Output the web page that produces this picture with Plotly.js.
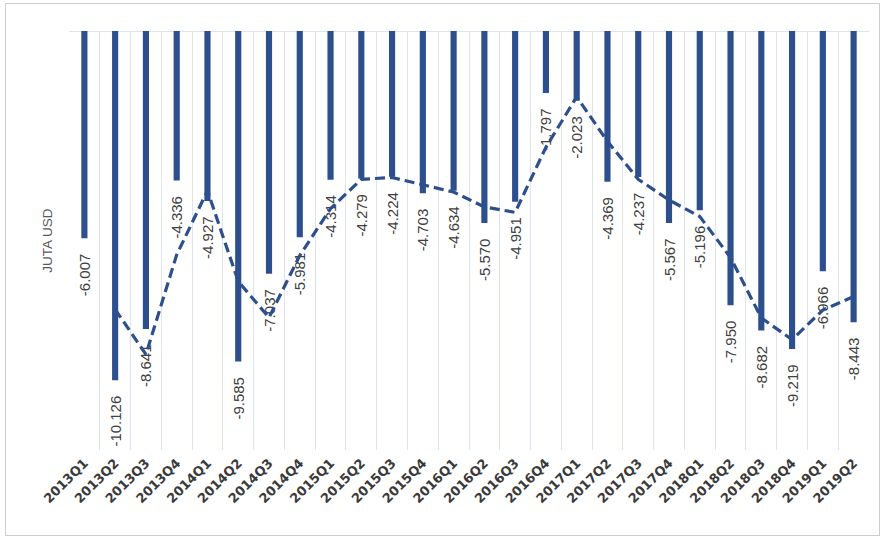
<!DOCTYPE html>
<html>
<head>
<meta charset="utf-8">
<script src="https://cdn.plot.ly/plotly-3.0.1.min.js"></script>
<style>
  html, body { margin: 0; padding: 0; background: #ffffff; }
  #wrap { position: relative; width: 883px; height: 541px; }
  #chart { width: 883px; height: 541px; }
  #frame { position: absolute; left: 5px; top: 3px; width: 873px; height: 531px;
           border: 1px solid #c9ccd2; pointer-events: none; }
</style>
</head>
<body>
<div id="wrap">
  <div id="chart"></div>
  <div id="frame"></div>
</div>
<script>
const categories = ["2013Q1","2013Q2","2013Q3","2013Q4","2014Q1","2014Q2","2014Q3","2014Q4",
  "2015Q1","2015Q2","2015Q3","2015Q4","2016Q1","2016Q2","2016Q3","2016Q4",
  "2017Q1","2017Q2","2017Q3","2017Q4","2018Q1","2018Q2","2018Q3","2018Q4",
  "2019Q1","2019Q2"];
const balanceValues = [-6.007,-10.126,-8.641,-4.336,-4.927,-9.585,-7.037,-5.981,
  -4.314,-4.279,-4.224,-4.703,-4.634,-5.570,-4.951,-1.797,
  -2.023,-4.369,-4.237,-5.567,-5.196,-7.950,-8.682,-9.219,
  -6.966,-8.443];
// dashed trend line (starts at 2013Q2)
const trendCategories = categories.slice(1);
const trendValues = [-8.07,-9.38,-6.49,-4.63,-7.26,-8.31,-6.51,
  -5.15,-4.30,-4.25,-4.46,-4.67,-5.10,-5.26,-3.37,
  -1.91,-3.20,-4.30,-4.90,-5.38,-6.57,-8.32,-8.95,
  -8.09,-7.70];
// labels carry a little trailing padding so they sit clear of the bar ends
const valueLabels = balanceValues.map(v => v.toFixed(3) + "\u00a0\u00a0\u00a0");

const barColor = "#2d4f8e";

const traces = [
  {
    type: "scatter", mode: "none", x: [], y: [], xaxis: "x2", yaxis: "y", hoverinfo: "skip"
  },
  {
    type: "bar",
    x: categories,
    y: balanceValues,
    width: 0.2,
    marker: { color: barColor },
    text: valueLabels,
    textposition: "outside",
    textangle: -90,
    constraintext: "none",
    cliponaxis: false,
    textfont: { family: "Liberation Sans, Arial, sans-serif", size: 15, color: "#404040" },
    hoverinfo: "x+y"
  },
  {
    type: "scatter",
    mode: "lines",
    x: trendCategories,
    y: trendValues,
    line: { color: barColor, width: 3.2, dash: "10px,5px" },
    hoverinfo: "x+y"
  }
];

const layout = {
  width: 883,
  height: 541,
  margin: { l: 69, r: 14, t: 31, b: 91 },
  paper_bgcolor: "#ffffff",
  plot_bgcolor: "#ffffff",
  showlegend: false,
  bargap: 0.8,
  xaxis: {
    type: "category",
    showgrid: false,
    ticks: "",
    tickangle: -45,
    ticklabelstandoff: 2,
    tickfont: { family: "DejaVu Sans, sans-serif", size: 13, color: "#3a3a3a", weight: "bold" },
    showline: false,
    zeroline: false
  },
  xaxis2: {
    overlaying: "x",
    range: [-0.5, categories.length - 0.5],
    tick0: -0.5,
    dtick: 1,
    showgrid: true,
    gridcolor: "#dfe4ec",
    gridwidth: 1,
    showticklabels: false,
    ticks: "",
    zeroline: false,
    layer: "below traces"
  },
  yaxis: {
    range: [-12.15, 0],
    showticklabels: false,
    showgrid: false,
    zeroline: true,
    zerolinecolor: "#dfe4ec",
    zerolinewidth: 1,
    ticks: "",
    title: { text: "JUTA USD", standoff: 12,
             font: { family: "Liberation Sans, Arial, sans-serif", size: 13.5, color: "#595959" } }
  }
};

Plotly.newPlot("chart", traces, layout, { displayModeBar: false, staticPlot: true });
</script>
</body>
</html>
